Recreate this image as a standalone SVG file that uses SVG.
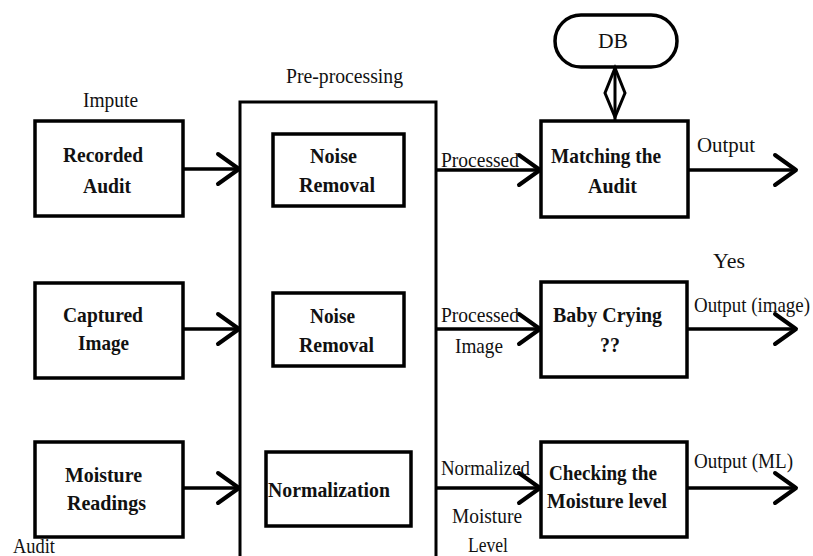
<svg xmlns="http://www.w3.org/2000/svg" width="813" height="556" viewBox="0 0 813 556" font-family="'Liberation Serif', 'Times New Roman', Times, 'DejaVu Serif', serif">
<style>
.box{fill:#fff;stroke:#000;stroke-width:3.5}
.frame{fill:none;stroke:#000;stroke-width:3}
.con{fill:none;stroke:#000;stroke-width:3.5}
.t{font-size:21px;fill:#111}
.bd{font-weight:bold;font-size:22px;fill:#111}
</style>
<defs>
<marker id="ah" markerUnits="userSpaceOnUse" markerWidth="30" markerHeight="40" viewBox="-26 -20 30 40" refX="0" refY="0" orient="auto" overflow="visible">
<path d="M-21,-15 L0,0 L-21,15" fill="none" stroke="#000" stroke-width="4" stroke-linejoin="round" stroke-linecap="round"/>
</marker>
</defs>
<rect width="813" height="556" fill="#fff"/>

<g id="labels-free">
<text class="t" x="83" y="107" textLength="55" lengthAdjust="spacingAndGlyphs">Impute</text>
<text class="t" x="13" y="553" textLength="42" lengthAdjust="spacingAndGlyphs">Audit</text>
</g>

<g id="preprocessing">
<path class="frame" d="M240,562 V102 H436 V562"/>
<text class="t" x="286" y="83" textLength="117" lengthAdjust="spacingAndGlyphs">Pre-processing</text>
</g>

<g id="recorded-audit">
<rect class="box" x="35" y="121" width="148" height="95"/>
<text class="bd" x="63" y="162" textLength="80" lengthAdjust="spacingAndGlyphs">Recorded</text>
<text class="bd" x="83" y="193" textLength="48" lengthAdjust="spacingAndGlyphs">Audit</text>
</g>
<g id="captured-image">
<rect class="box" x="35" y="283" width="148" height="95"/>
<text class="bd" x="63" y="322" textLength="80" lengthAdjust="spacingAndGlyphs">Captured</text>
<text class="bd" x="78" y="350" textLength="51" lengthAdjust="spacingAndGlyphs">Image</text>
</g>
<g id="moisture-readings">
<rect class="box" x="35" y="442" width="148" height="95"/>
<text class="bd" x="65" y="482" textLength="77" lengthAdjust="spacingAndGlyphs">Moisture</text>
<text class="bd" x="67" y="510" textLength="79" lengthAdjust="spacingAndGlyphs">Readings</text>
</g>

<g id="noise-removal-1">
<rect class="box" x="273" y="134" width="131" height="72"/>
<text class="bd" x="310" y="163" textLength="47" lengthAdjust="spacingAndGlyphs">Noise</text>
<text class="bd" x="299" y="192" textLength="76" lengthAdjust="spacingAndGlyphs">Removal</text>
</g>
<g id="noise-removal-2">
<rect class="box" x="273" y="293" width="131" height="73"/>
<text class="bd" x="310" y="323" textLength="45" lengthAdjust="spacingAndGlyphs">Noise</text>
<text class="bd" x="299" y="352" textLength="75" lengthAdjust="spacingAndGlyphs">Removal</text>
</g>
<g id="normalization">
<rect class="box" x="266" y="452" width="145" height="74"/>
<text class="bd" x="268" y="497" textLength="122" lengthAdjust="spacingAndGlyphs">Normalization</text>
</g>

<g id="db">
<rect class="box" x="555" y="15" width="122" height="52" rx="26" ry="26"/>
<text class="t" x="598" y="48" textLength="30" lengthAdjust="spacingAndGlyphs">DB</text>
</g>
<g id="matching-audit">
<rect class="box" x="541" y="121" width="147" height="96"/>
<text class="bd" x="551" y="163" textLength="110" lengthAdjust="spacingAndGlyphs">Matching the</text>
<text class="bd" x="588" y="193" textLength="49" lengthAdjust="spacingAndGlyphs">Audit</text>
</g>
<g id="baby-crying">
<rect class="box" x="541" y="282" width="146" height="95"/>
<text class="bd" x="553" y="322" textLength="109" lengthAdjust="spacingAndGlyphs">Baby Crying</text>
<text class="bd" x="600" y="352" textLength="20" lengthAdjust="spacingAndGlyphs">??</text>
</g>
<g id="checking-moisture">
<rect class="box" x="541" y="442" width="146" height="95"/>
<text class="bd" x="549" y="480" textLength="108" lengthAdjust="spacingAndGlyphs">Checking the</text>
<text class="bd" x="547" y="508" textLength="120" lengthAdjust="spacingAndGlyphs">Moisture level</text>
</g>

<g id="connectors">
<line class="con" x1="183" y1="169" x2="239" y2="169" marker-end="url(#ah)"/>
<line class="con" x1="183" y1="329" x2="239" y2="329" marker-end="url(#ah)"/>
<line class="con" x1="183" y1="488" x2="239" y2="488" marker-end="url(#ah)"/>
<line class="con" x1="436" y1="170" x2="540" y2="170" marker-end="url(#ah)"/>
<line class="con" x1="436" y1="329" x2="540" y2="329" marker-end="url(#ah)"/>
<line class="con" x1="436" y1="488" x2="540" y2="488" marker-end="url(#ah)"/>
<line class="con" x1="688" y1="170" x2="796" y2="170" marker-end="url(#ah)"/>
<line class="con" x1="687" y1="329" x2="796" y2="329" marker-end="url(#ah)"/>
<line class="con" x1="687" y1="488" x2="796" y2="488" marker-end="url(#ah)"/>
<line x1="615" y1="67" x2="615" y2="121" stroke="#000" stroke-width="3"/>
<path d="M615,68 L605,93 L615,117 L625,93 Z" fill="none" stroke="#000" stroke-width="3" stroke-linejoin="miter"/>
<text class="t" x="441" y="167" textLength="78" lengthAdjust="spacingAndGlyphs">Processed</text>
<text class="t" x="441" y="322" textLength="78" lengthAdjust="spacingAndGlyphs">Processed</text>
<text class="t" x="455" y="353" textLength="48" lengthAdjust="spacingAndGlyphs">Image</text>
<text class="t" x="441" y="475" textLength="89" lengthAdjust="spacingAndGlyphs">Normalized</text>
<text class="t" x="452" y="523" textLength="70" lengthAdjust="spacingAndGlyphs">Moisture</text>
<text class="t" x="468" y="552" textLength="40" lengthAdjust="spacingAndGlyphs">Level</text>
<text class="t" x="697" y="152" textLength="58" lengthAdjust="spacingAndGlyphs">Output</text>
<text class="t" x="713" y="268" textLength="32" lengthAdjust="spacingAndGlyphs">Yes</text>
<text class="t" x="694" y="312" textLength="116" lengthAdjust="spacingAndGlyphs">Output (image)</text>
<text class="t" x="694" y="468" textLength="99" lengthAdjust="spacingAndGlyphs">Output (ML)</text>
</g>
</svg>
